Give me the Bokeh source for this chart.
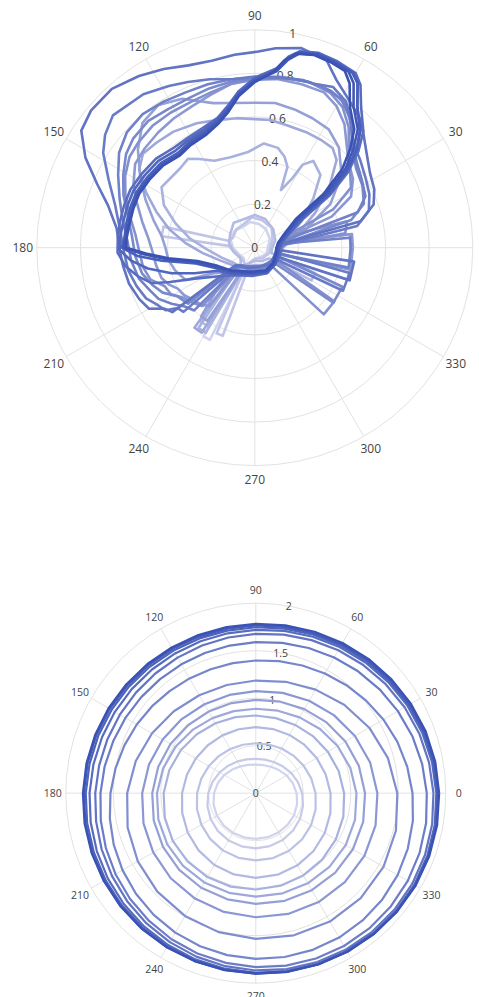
import numpy as np
from bokeh.plotting import figure
from bokeh.layouts import column
from bokeh.models import Range1d
from bokeh.embed import file_html
from bokeh.resources import INLINE
from bokeh.core.properties import value

# ---------------- upper panel: traces as (theta deg, r) pairs, light -> dark ----------------
top_l0 = [(0,.06),(30,.08),(60,.10),(80,.11),(100,.12),(120,.11),(140,.12),(160,.12),(180,.10),(200,.08),(225,.07),(237,.09),(240,.47),(244,.47),(247,.08),(270,.05),(300,.05),(330,.06),(360,.06)]
top_l1 = [(0,.07),(25,.09),(50,.12),(75,.13),(95,.14),(115,.12),(135,.12),(155,.11),(165,.12),(167,.43),(173,.43),(176,.12),(200,.09),(228,.08),(243,.09),(246,.43),(250,.43),(253,.07),(280,.05),(310,.06),(340,.07),(360,.07)]
top_l2 = [(0,.08),(20,.10),(45,.12),(70,.14),(90,.15),(110,.14),(130,.15),(150,.13),(170,.12),(190,.10),(215,.08),(230,.10),(234,.42),(239,.42),(242,.09),(270,.06),(300,.07),(322,.08),(330,.30),(337,.30),(342,.08),(360,.08)]
top_l3 = [(0,.12),(10,.14),(20,.18),(30,.25),(40,.35),(48,.45),(56,.48),(60,.44),(61.7,.36),(65.6,.29),(68,.40),(72,.44),(77,.47),(85,.48),(94,.44),(105,.43),(115,.44),(122,.48),(127,.51),(133,.50),(138,.50),(147,.51),(155,.46),(163,.38),(172,.30),(182,.22),(196,.16),(215,.12),(231,.11),(235,.45),(240,.45),(243,.10),(270,.08),(300,.09),(330,.10),(360,.12)]
top_l4 = [(0,.13),(10,.16),(20,.22),(30,.32),(40,.45),(47,.55),(52,.58),(58,.58),(66,.58),(75,.58),(83,.59),(90,.59),(98,.60),(106,.61),(115,.63),(125,.65),(133,.66),(140,.67),(146,.64),(153,.56),(160,.48),(168,.40),(176,.32),(186,.24),(200,.17),(218,.13),(229,.13),(233,.46),(238,.46),(241,.12),(270,.09),(300,.10),(330,.11),(348,.12),(360,.13)]
top_l5 = [(0,.44),(8,.44),(11,.15),(20,.25),(30,.40),(40,.52),(50,.60),(58,.64),(66,.65),(74,.66),(82,.67),(90,.665),(98,.67),(106,.69),(116,.76),(124,.79),(132,.77),(140,.70),(148,.62),(156,.55),(165,.48),(173,.43),(180,.41),(188,.40),(196,.38),(205,.35),(212,.22),(222,.17),(232,.40),(237,.40),(240,.14),(265,.10),(295,.11),(325,.12),(338,.14),(341,.45),(350,.45),(360,.44)]
top_m6 = [(0,.45),(8,.45),(11,.12),(17,.14),(22,.38),(28,.50),(35,.55),(42,.58),(48,.63),(54,.70),(60,.75),(66,.78),(74,.78),(82,.78),(90,.775),(98,.76),(106,.73),(114,.71),(122,.70),(130,.69),(138,.68),(145,.67),(152,.63),(159,.58),(167,.53),(175,.49),(182,.47),(190,.46),(198,.45),(203,.43),(208,.40),(214,.39),(220,.37),(226,.36),(232,.34),(235,.10),(260,.09),(290,.09),(320,.10),(344,.10),(347,.45),(360,.45)]
top_m5 = [(0,.10),(5,.11),(9,.42),(16,.44),(20,.15),(26,.40),(32,.52),(40,.57),(46,.62),(52,.70),(58,.76),(64,.79),(72,.80),(80,.79),(90,.77),(98,.76),(106,.74),(114,.73),(122,.73),(130,.73),(138,.72),(144,.71),(151,.68),(158,.64),(166,.59),(174,.55),(182,.53),(190,.52),(197,.50),(203,.45),(209,.44),(215,.40),(222,.38),(228,.36),(231,.11),(255,.09),(285,.09),(312,.10),(316,.44),(326,.44),(329,.10),(360,.10)]
top_m4 = [(0,.12),(10,.16),(16,.46),(22,.54),(30,.57),(38,.59),(46,.64),(52,.72),(58,.78),(64,.80),(72,.80),(80,.79),(90,.775),(98,.77),(106,.76),(114,.75),(122,.75),(130,.76),(138,.75),(144,.73),(151,.69),(158,.65),(166,.60),(175,.565),(184,.55),(193,.53),(200,.50),(206,.47),(212,.42),(220,.40),(224,.12),(250,.10),(280,.10),(310,.11),(322,.11),(325,.44),(336,.44),(339,.11),(352,.11),(360,.12)]
top_m3 = [(0,.44),(6,.44),(9,.12),(14,.15),(19,.50),(25,.56),(32,.58),(40,.61),(47,.66),(54,.74),(60,.79),(66,.80),(74,.80),(82,.79),(90,.78),(98,.78),(106,.78),(114,.78),(122,.79),(130,.80),(138,.79),(145,.76),(152,.71),(160,.66),(168,.62),(177,.585),(186,.57),(195,.55),(202,.52),(208,.50),(214,.46),(220,.42),(226,.40),(229,.11),(260,.09),(290,.09),(320,.10),(345,.10),(348,.44),(360,.44)]
top_m2 = [(0,.11),(6,.13),(12,.48),(18,.55),(25,.58),(32,.60),(40,.63),(47,.66),(52,.72),(58,.79),(64,.82),(70,.80),(76,.795),(82,.79),(90,.785),(97,.78),(105,.80),(112,.82),(118,.84),(126,.87),(137,.89),(143,.86),(148,.82),(155,.74),(163,.67),(172,.625),(182,.60),(190,.59),(198,.57),(205,.55),(210,.52),(215,.50),(218,.45),(222,.44),(226,.11),(255,.09),(285,.09),(315,.10),(331,.10),(334,.45),(345,.45),(348,.10),(360,.11)]
top_m1 = [(0,.10),(8,.12),(14,.50),(20,.58),(26,.61),(33,.63),(40,.67),(50,.76),(57,.80),(64,.855),(69,.92),(77,.94),(84,.92),(89,.90),(96,.89),(103,.88),(110,.89),(117,.92),(124,.95),(132,.98),(140,.98),(146,.96),(152,.88),(158,.78),(164,.70),(172,.64),(181,.62),(188,.61),(196,.60),(204,.58),(210,.56),(214,.50),(218,.48),(222,.12),(250,.10),(280,.09),(310,.10),(338,.10),(341,.46),(352,.46),(355,.10),(360,.10)]
top_d1 = [(0,.12),(12,.13),(22,.17),(31,.26),(35,.42),(39,.55),(43,.65),(47,.73),(53,.81),(57,.89),(60,.925),(66,.935),(72,.94),(77,.925),(80,.89),(83,.83),(90,.78),(96,.72),(101,.66),(106,.62),(113,.60),(122,.59),(129,.59),(138,.61),(147,.62),(155,.63),(162,.63),(169,.63),(176,.63),(182,.63),(188,.60),(194,.55),(199,.50),(202,.42),(208,.30),(225,.18),(245,.14),(265,.13),(296,.13),(320,.12),(336,.12),(350,.12),(360,.12)]
top_d2 = [(0,.11),(12,.12),(22,.16),(32,.25),(36,.42),(40,.55),(44,.65),(48,.72),(54,.80),(58,.89),(61,.92),(67,.93),(72,.935),(77,.92),(80,.88),(83,.825),(90,.775),(96,.715),(101,.655),(106,.615),(113,.59),(122,.58),(129,.575),(138,.595),(147,.605),(155,.615),(162,.615),(169,.615),(176,.62),(181,.62),(186,.57),(191,.50),(197,.40),(203,.30),(212,.20),(228,.16),(245,.13),(265,.12),(296,.125),(320,.12),(336,.11),(350,.11),(360,.11)]
top_d3 = [(0,.11),(12,.12),(23,.16),(33,.25),(36,.42),(40,.555),(44,.65),(48,.725),(54,.80),(58,.89),(60.5,.92),(67,.93),(72,.935),(77,.92),(80,.88),(83,.82),(90,.77),(96,.71),(101,.65),(106,.61),(113,.58),(122,.57),(129,.56),(138,.58),(147,.59),(155,.60),(162,.60),(169,.60),(176,.60),(180,.61),(184,.54),(188,.43),(195,.28),(208,.20),(225,.16),(245,.13),(265,.12),(296,.125),(320,.12),(336,.11),(350,.11),(360,.11)]
top_d4 = [(0,.10),(12,.11),(24,.15),(34,.24),(37,.41),(41,.55),(45,.64),(49,.72),(55,.79),(59,.88),(62,.915),(67,.925),(72,.93),(77,.915),(80,.875),(83,.815),(90,.765),(96,.705),(101,.64),(106,.60),(113,.57),(122,.56),(129,.55),(138,.57),(147,.58),(155,.59),(162,.59),(169,.59),(176,.595),(180,.60),(183,.52),(187,.42),(193,.29),(206,.20),(225,.15),(245,.12),(265,.115),(296,.12),(320,.11),(336,.105),(350,.10),(360,.10)]
top_d5 = [(0,.10),(12,.11),(24,.145),(35,.23),(38,.40),(42,.54),(46,.63),(50,.71),(56,.78),(60,.87),(63,.91),(68,.92),(73,.925),(78,.91),(81,.87),(84,.81),(90,.76),(96,.70),(101,.635),(106,.595),(113,.565),(122,.555),(129,.545),(138,.565),(147,.575),(155,.585),(162,.585),(169,.585),(176,.59),(180,.59),(183,.50),(187,.40),(193,.27),(206,.19),(225,.15),(245,.12),(265,.11),(296,.115),(320,.11),(336,.10),(350,.10),(360,.10)]

top_traces = [top_l0, top_l1, top_l2, top_l3, top_l4, top_l5, top_m6, top_m5, top_m4,
              top_m3, top_m2, top_m1, top_d1, top_d2, top_d3, top_d4, top_d5]

top_r_ticks = [0, 0.2, 0.4, 0.6, 0.8, 1]
top_r_labels = ["0", "0.2", "0.4", "0.6", "0.8", "1"]

# ---------------- lower panel, light -> dark ----------------
# inner rings sampled every 15 degrees
bot_theta15 = [0, 15, 30, 45, 60, 75, 90, 105, 120, 135, 150, 165,
               180, 195, 210, 225, 240, 255, 270, 285, 300, 315, 330, 345]
bot_b0 = [.430,.404,.374,.345,.321,.305,.300,.308,.326,.352,.383,.414,.440,.460,.473,.480,.482,.481,.480,.479,.477,.473,.465,.450]
bot_b1 = [.488,.458,.429,.401,.379,.366,.362,.369,.386,.410,.439,.470,.500,.527,.548,.564,.574,.579,.580,.576,.568,.555,.538,.515]
bot_b2 = [.629,.604,.581,.560,.543,.531,.526,.528,.537,.552,.571,.594,.618,.641,.662,.680,.695,.704,.708,.707,.700,.688,.672,.652]
bot_b3 = [.787,.762,.740,.722,.708,.699,.696,.697,.703,.714,.730,.751,.776,.802,.828,.852,.872,.885,.891,.888,.877,.860,.838,.813]
bot_b4 = [.930,.903,.875,.850,.830,.818,.818,.829,.850,.878,.910,.942,.970,.992,1.008,1.016,1.019,1.018,1.014,1.008,.999,.988,.973,.954]
bot_b5 = [1.060,1.030,.994,.956,.922,.899,.889,.894,.912,.942,.976,1.010,1.040,1.062,1.076,1.082,1.085,1.086,1.088,1.091,1.095,1.096,1.093,1.081]
bot_b6 = [1.150,1.122,1.089,1.054,1.022,.997,.983,.982,.992,1.011,1.037,1.064,1.090,1.112,1.128,1.140,1.149,1.157,1.165,1.173,1.179,1.183,1.180,1.170]
bot_b7 = [1.280,1.246,1.205,1.162,1.123,1.093,1.074,1.071,1.081,1.103,1.132,1.164,1.196,1.224,1.247,1.266,1.281,1.294,1.306,1.316,1.323,1.325,1.320,1.305]
bot_b8 = [1.490,1.439,1.379,1.316,1.259,1.214,1.186,1.179,1.191,1.220,1.261,1.308,1.354,1.397,1.434,1.466,1.492,1.514,1.533,1.549,1.560,1.562,1.552,1.527]
# outer rings sampled every 10 degrees
bot_theta10 = [0, 10, 20, 30, 40, 50, 60, 70, 80, 90, 100, 110, 120, 130, 140, 150, 160, 170,
               180, 190, 200, 210, 220, 230, 240, 250, 260, 270, 280, 290, 300, 310, 320, 330, 340, 350]
bot_b9 = [1.650,1.618,1.585,1.551,1.516,1.484,1.455,1.430,1.411,1.397,1.390,1.389,1.395,1.407,1.425,1.447,1.472,1.500,
          1.530,1.560,1.591,1.620,1.647,1.672,1.695,1.714,1.731,1.743,1.751,1.755,1.755,1.749,1.739,1.724,1.703,1.679]
bot_b10 = [1.800,1.778,1.754,1.727,1.701,1.675,1.650,1.627,1.607,1.590,1.578,1.570,1.567,1.568,1.574,1.585,1.598,1.616,
           1.635,1.657,1.680,1.705,1.729,1.752,1.775,1.796,1.814,1.830,1.843,1.852,1.857,1.858,1.855,1.847,1.835,1.820]
bot_b11 = [1.870,1.852,1.832,1.809,1.785,1.761,1.738,1.715,1.695,1.678,1.664,1.654,1.648,1.645,1.647,1.653,1.662,1.675,
           1.690,1.707,1.727,1.747,1.768,1.790,1.810,1.831,1.849,1.866,1.880,1.892,1.900,1.905,1.906,1.903,1.896,1.885]
bot_b12 = [1.900,1.884,1.864,1.843,1.820,1.796,1.774,1.753,1.735,1.720,1.709,1.702,1.699,1.700,1.705,1.713,1.723,1.736,
           1.750,1.765,1.781,1.798,1.814,1.830,1.846,1.862,1.876,1.890,1.902,1.913,1.921,1.927,1.929,1.928,1.922,1.913]
bot_b13 = [1.910,1.895,1.878,1.858,1.836,1.815,1.794,1.775,1.759,1.747,1.738,1.734,1.734,1.738,1.744,1.754,1.765,1.777,
           1.790,1.803,1.815,1.827,1.839,1.850,1.861,1.872,1.883,1.894,1.904,1.913,1.921,1.927,1.931,1.931,1.928,1.922]
bot_b14 = [1.920,1.907,1.890,1.871,1.851,1.830,1.810,1.792,1.777,1.765,1.758,1.754,1.755,1.759,1.766,1.776,1.787,1.798,
           1.810,1.822,1.833,1.843,1.853,1.863,1.872,1.881,1.891,1.900,1.910,1.919,1.927,1.933,1.937,1.939,1.936,1.930]
bot_b15 = [1.930,1.918,1.903,1.885,1.865,1.845,1.826,1.809,1.794,1.783,1.775,1.771,1.771,1.775,1.781,1.790,1.799,1.810,
           1.820,1.830,1.839,1.848,1.857,1.865,1.873,1.881,1.890,1.900,1.909,1.919,1.928,1.935,1.941,1.943,1.943,1.938]

bot_traces = [(bot_theta15, bot_b0), (bot_theta15, bot_b1), (bot_theta15, bot_b2), (bot_theta15, bot_b3),
              (bot_theta15, bot_b4), (bot_theta15, bot_b5), (bot_theta15, bot_b6), (bot_theta15, bot_b7),
              (bot_theta15, bot_b8), (bot_theta10, bot_b9), (bot_theta10, bot_b10), (bot_theta10, bot_b11),
              (bot_theta10, bot_b12), (bot_theta10, bot_b13), (bot_theta10, bot_b14), (bot_theta10, bot_b15)]

bot_r_ticks = [0, 0.5, 1, 1.5, 2]
bot_r_labels = ["0", "0.5", "1", "1.5", "2"]

angle_ticks = [0, 30, 60, 90, 120, 150, 180, 210, 240, 270, 300, 330]
angle_labels = [str(a) for a in angle_ticks]

# ---------------- styling ----------------
W = 479
LIGHT = (208, 211, 237)
DARK = (58, 82, 180)
GRID = "#e2e2e2"
TEXT = "#444444"
FONT = "Open Sans"


def shade(i, n, gamma=1.0):
    t = (i / (n - 1)) ** gamma
    rgb = [round(a + (b - a) * t) for a, b in zip(LIGHT, DARK)]
    return "#%02x%02x%02x" % tuple(rgb)


def to_xy(theta_deg, r):
    th = np.deg2rad(np.asarray(theta_deg, dtype=float))
    r = np.asarray(r, dtype=float)
    return r * np.cos(th), r * np.sin(th)


def polar_panel(height, cx, cy, radius_px, rmax, r_ticks, r_labels, fs, lab_pad):
    scale = radius_px / rmax  # pixels per radial unit
    p = figure(width=W, height=height, output_backend="svg", toolbar_location=None,
               x_range=Range1d(-cx / scale, (W - cx) / scale),
               y_range=Range1d(-(height - cy) / scale, cy / scale),
               x_axis_location=None, y_axis_location=None, min_border=0,
               background_fill_color="white", border_fill_color="white")
    p.grid.visible = False
    p.outline_line_color = None

    # concentric grid circles
    for rt in r_ticks[1:]:
        p.circle(x=0, y=0, radius=rt, fill_color=None, line_color=GRID, line_width=1)
    # angular spokes
    sx, sy = to_xy(angle_ticks, [rmax] * len(angle_ticks))
    p.segment(x0=[0] * len(sx), y0=[0] * len(sy), x1=sx, y1=sy, line_color=GRID, line_width=1)

    # angular tick labels
    lab_r = (radius_px + lab_pad) / scale
    lx, ly = to_xy(angle_ticks, [lab_r] * len(angle_ticks))
    p.text(x=lx, y=ly, text=angle_labels, text_align="center", text_baseline="middle",
           text_font=value(FONT), text_font_size=fs, text_color=TEXT)

    # radial tick labels along the 80 degree direction
    rx, ry = to_xy([80] * len(r_ticks), r_ticks)
    p.text(x=rx, y=ry, text=r_labels, text_align="center", text_baseline="middle",
           text_font=value(FONT), text_font_size=fs, text_color=TEXT)
    return p


# upper panel
TOP_H = 530
p1 = polar_panel(TOP_H, 254.3, 247.2, 218.0, 1.0, top_r_ticks, top_r_labels, "12px", 14)
for i, tr in enumerate(top_traces):
    th = [a for a, _ in tr]
    rr = [b for _, b in tr]
    x, y = to_xy(th, rr)
    p1.line(x=x, y=y, line_color=shade(i, len(top_traces), 0.8), line_width=2.6,
            line_join="round")

# lower panel
BOT_H = 997 - TOP_H
p2 = polar_panel(BOT_H, 255.3, 792.7 - TOP_H, 190.0, 2.0, bot_r_ticks, bot_r_labels, "10.5px", 13)
for i, (th, rr) in enumerate(bot_traces):
    x, y = to_xy(list(th) + [360], list(rr) + [rr[0]])
    p2.line(x=x, y=y, line_color=shade(i, len(bot_traces)), line_width=2.2,
            line_join="round")

layout = column(p1, p2, spacing=0)
open("out.html", "w").write(file_html(layout, INLINE))
